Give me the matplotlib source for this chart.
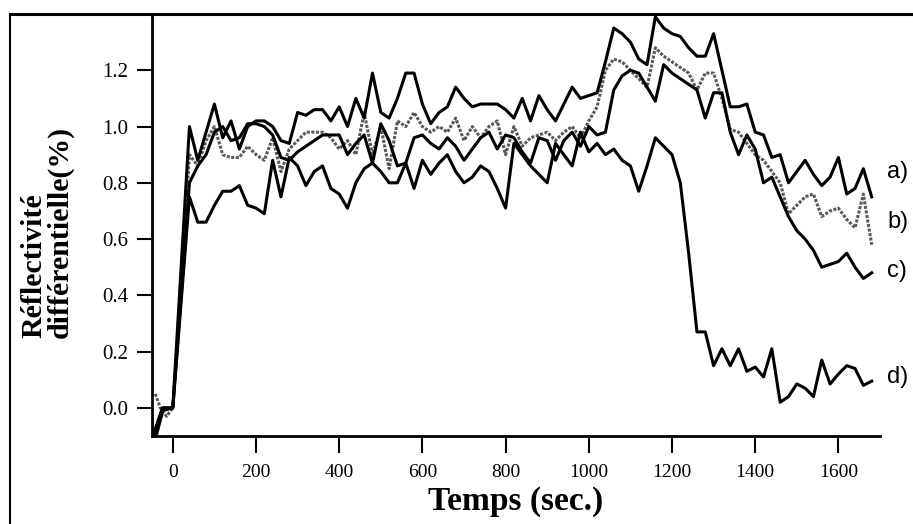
import matplotlib.pyplot as plt
from matplotlib.lines import Line2D

# time grid shared by all four curves (sec.)
t_grid = [40, 60, 80, 100, 120, 140, 160, 180, 200, 220, 240, 260, 280, 300,
          320, 340, 360, 380, 400, 420, 440, 460, 480, 500, 520, 540, 560, 580,
          600, 620, 640, 660, 680, 700, 720, 740, 760, 780, 800, 820, 840, 860,
          880, 900, 920, 940, 960, 980, 1000, 1020, 1040, 1060, 1080, 1100,
          1120, 1140, 1160, 1180, 1200, 1220, 1240, 1260, 1280, 1300, 1320,
          1340, 1360, 1380, 1400, 1420, 1440, 1460, 1480, 1500, 1520, 1540,
          1560, 1580, 1600, 1620, 1640, 1660, 1680]

# start of each run (before the rise)
t_start_a = [-48, -25, 0]
r_start_a = [-0.1, 0.0, 0.0]
t_start_b = [-42, -30, -15, 0]
r_start_b = [0.05, 0.0, -0.03, 0.0]
t_start_c = [-45, -25, 0]
r_start_c = [-0.1, -0.01, 0.0]
t_start_d = [-40, -22, 0]
r_start_d = [-0.1, 0.0, 0.0]

r_a = [1.0, 0.88, 0.98, 1.08, 0.96, 1.02, 0.92, 1.0, 1.02, 1.02, 1.0, 0.95,
       0.94, 1.05, 1.04, 1.06, 1.06, 1.02, 1.07, 1.0, 1.1, 1.03, 1.19, 1.05,
       1.03, 1.1, 1.19, 1.19, 1.08, 1.01, 1.05, 1.07, 1.14, 1.1, 1.07, 1.08,
       1.08, 1.08, 1.06, 1.03, 1.1, 1.02, 1.11, 1.06, 1.02, 1.08, 1.14, 1.1,
       1.11, 1.12, 1.23, 1.35, 1.33, 1.3, 1.24, 1.22, 1.39, 1.35, 1.33, 1.32,
       1.28, 1.25, 1.25, 1.33, 1.2, 1.07, 1.07, 1.08, 0.98, 0.97, 0.89, 0.9,
       0.8, 0.84, 0.88, 0.83, 0.79, 0.82, 0.89, 0.76, 0.78, 0.85, 0.75]

r_b = [0.9, 0.86, 0.95, 1.0, 0.9, 0.89, 0.89, 0.93, 0.9, 0.88, 0.96, 0.84,
       0.92, 0.95, 0.98, 0.98, 0.98, 0.96, 0.92, 0.95, 0.9, 1.05, 0.9, 1.0,
       0.85, 1.02, 1.0, 1.05, 1.0, 0.98, 1.0, 0.98, 1.03, 0.95, 1.0, 0.96,
       1.0, 1.02, 0.9, 1.0, 0.93, 0.96, 0.97, 0.98, 0.95, 0.98, 1.0, 0.96,
       1.02, 1.07, 1.2, 1.24, 1.23, 1.2, 1.17, 1.14, 1.28, 1.25, 1.23, 1.21,
       1.19, 1.13, 1.19, 1.19, 1.1, 0.99, 0.98, 0.94, 0.9, 0.88, 0.84, 0.8,
       0.69, 0.72, 0.75, 0.76, 0.68, 0.7, 0.71, 0.67, 0.64, 0.76, 0.58]

r_c = [0.8, 0.86, 0.9, 0.98, 1.0, 0.95, 0.96, 1.01, 1.01, 1.0, 0.97, 0.89,
       0.88, 0.91, 0.93, 0.95, 0.97, 0.97, 0.97, 0.9, 0.94, 0.97, 0.87, 1.01,
       0.95, 0.86, 0.87, 0.96, 0.97, 0.94, 0.92, 0.96, 0.93, 0.88, 0.92, 0.96,
       0.98, 0.92, 0.97, 0.96, 0.91, 0.87, 0.96, 0.95, 0.88, 0.95, 0.98, 0.93,
       1.0, 0.97, 0.98, 1.13, 1.18, 1.2, 1.19, 1.14, 1.09, 1.22, 1.19, 1.17,
       1.15, 1.13, 1.03, 1.12, 1.12, 0.98, 0.9, 0.97, 0.92, 0.8, 0.82, 0.75,
       0.68, 0.63, 0.6, 0.56, 0.5, 0.51, 0.52, 0.55, 0.5, 0.46, 0.48]

r_d = [0.75, 0.66, 0.66, 0.72, 0.77, 0.77, 0.79, 0.72, 0.71, 0.69, 0.88, 0.75,
       0.89, 0.86, 0.79, 0.84, 0.86, 0.78, 0.76, 0.71, 0.8, 0.85, 0.87, 0.84,
       0.8, 0.8, 0.87, 0.78, 0.88, 0.83, 0.87, 0.9, 0.84, 0.8, 0.82, 0.86,
       0.84, 0.78, 0.71, 0.94, 0.9, 0.86, 0.83, 0.8, 0.94, 0.9, 0.86, 0.98,
       0.91, 0.94, 0.9, 0.92, 0.88, 0.86, 0.77, 0.86, 0.96, 0.93, 0.9, 0.8,
       0.55, 0.27, 0.27, 0.15, 0.21, 0.15, 0.21, 0.13, 0.145, 0.11, 0.21, 0.02,
       0.04, 0.085, 0.07, 0.04, 0.17, 0.085, 0.12, 0.15, 0.14, 0.08, 0.095]

labels = ['a)', 'b)', 'c)', 'd)']
label_y = [0.84, 0.66, 0.485, 0.11]

x_ticks = [0, 200, 400, 600, 800, 1000, 1200, 1400, 1600]
y_ticks = [0.0, 0.2, 0.4, 0.6, 0.8, 1.0, 1.2]

serif = 'Liberation Serif'

fig = plt.figure(figsize=(9.13, 5.24), dpi=100)
ax = fig.add_axes([152 / 913, 1 - 436 / 524, (880 - 152) / 913, (436 - 14) / 524])

ax.plot(t_start_a + t_grid, r_start_a + r_a, color='black', lw=2.2, zorder=4)
ax.plot(t_start_b + t_grid, r_start_b + r_b, color='0.35', lw=2.2,
        ls=(0, (1.0, 0.5)), zorder=3)
ax.plot(t_start_c + t_grid, r_start_c + r_c, color='black', lw=2.2, zorder=4)
ax.plot(t_start_d + t_grid, r_start_d + r_d, color='black', lw=2.2, zorder=4)

for lab, yv in zip(labels, label_y):
    ax.text(1718, yv, lab, fontsize=17, family='Liberation Sans',
            ha='left', va='center', clip_on=False)

ax.set_xlim(-50, 1700)
ax.set_ylim(-0.1, 1.4)
ax.set_xticks(x_ticks)
ax.set_yticks(y_ticks)
ax.set_yticklabels([f'{v:.1f}' for v in y_ticks], family=serif, fontsize=15)
ax.set_xticklabels([str(v) for v in x_ticks], family=serif, fontsize=14)
ax.tick_params(axis='y', direction='out', length=11, width=1.5, pad=6)
ax.tick_params(axis='x', direction='out', length=12, width=1.5, pad=8)

for side in ['top', 'right']:
    ax.spines[side].set_visible(False)
for side in ['left', 'bottom']:
    ax.spines[side].set_linewidth(2)

ax.set_xlabel('Temps (sec.)', family=serif, fontsize=24, fontweight='bold',
              labelpad=4)
fig.text(47 / 913, 1 - 338 / 524, 'Réflectivité\ndifférentielle(%)',
         family=serif, fontsize=21.5, fontweight='bold', rotation=90,
         ha='center', va='bottom', multialignment='left', linespacing=0.95)

# scanned page frame (left and top edges)
fig.add_artist(Line2D([10 / 913, 10 / 913], [0, 1 - 14 / 524],
                      transform=fig.transFigure, color='black', lw=1.5))
fig.add_artist(Line2D([10 / 913, 1], [1 - 14 / 524, 1 - 14 / 524],
                      transform=fig.transFigure, color='black', lw=2.2))

fig.savefig('out.png', dpi=100)
